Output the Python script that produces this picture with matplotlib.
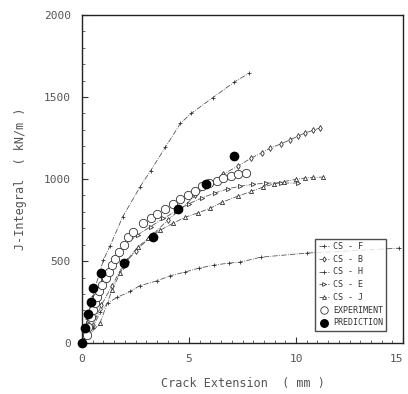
import matplotlib
matplotlib.use("Agg")
from matplotlib import pyplot as plt
from matplotlib.ticker import MultipleLocator
import numpy as np

plt.rcParams['font.family'] = ['DejaVu Sans Mono', 'DejaVu Sans']

# 数据
f_x = [0, 0.25, 0.5, 0.8, 1.0, 1.3, 1.9, 2.7, 3.2, 3.9, 4.6, 5.1, 6.1, 7.1, 7.8]
f_y = [0, 150, 290, 420, 506, 590, 770, 950, 1050, 1195, 1340, 1400, 1495, 1590, 1645]

b_x = [0, 0.5, 0.9, 1.4, 1.9, 2.5, 3.3, 4.0, 4.6, 5.3, 5.9, 6.6, 7.3, 7.9, 8.4, 8.8, 9.3, 9.7, 10.1, 10.4, 10.8, 11.1]
b_y = [0, 110, 230, 350, 470, 560, 660, 750, 815, 900, 965, 1030, 1080, 1128, 1160, 1189, 1215, 1238, 1262, 1280, 1297, 1311]

h_x = [0, 0.5, 0.85, 1.2, 1.65, 2.25, 2.7, 3.5, 4.1, 4.8, 5.45, 6.15, 6.85, 7.4, 8.35, 10.5, 14.8]
h_y = [0, 95, 190, 245, 280, 315, 350, 380, 410, 433, 457, 475, 488, 494, 524, 549, 579]

e_x = [0, 0.3, 0.6, 1.0, 1.5, 2.0, 2.6, 3.2, 3.8, 4.4, 5.0, 5.6, 6.2, 6.8, 7.4, 8.0, 8.6, 9.3, 10.1]
e_y = [0, 120, 250, 390, 520, 600, 660, 710, 760, 805, 850, 885, 915, 940, 957, 968, 976, 976, 976]

j_x = [0, 0.84, 1.4, 1.78, 2.1, 2.6, 3.1, 3.66, 4.27, 4.83, 5.4, 6.0, 6.56, 7.27, 7.9, 8.44, 8.95, 9.42, 9.98, 10.4, 10.8, 11.25]
j_y = [0, 122, 323, 427, 506, 585, 640, 689, 732, 768, 793, 823, 860, 895, 925, 950, 970, 985, 998, 1006, 1010, 1012]

exp_x = [0.25, 0.3, 0.4, 0.5, 0.6, 0.7, 0.8, 0.95, 1.1, 1.25, 1.4, 1.55, 1.75, 1.95, 2.15, 2.4, 2.85,
         3.2, 3.5, 3.9, 4.25, 4.6, 4.95, 5.3, 5.6, 5.95, 6.3, 6.6, 6.95, 7.3, 7.65]
exp_y = [50, 100, 160, 200, 245, 280, 315, 355, 400, 435, 475, 515, 555, 600, 645, 680, 730,
         760, 790, 820, 850, 880, 905, 930, 955, 975, 990, 1005, 1020, 1030, 1040]

pred_x = [0, 0.15, 0.3, 0.42, 0.52, 0.9, 1.95, 3.3, 4.5, 5.8, 7.1]
pred_y = [0, 90, 180, 250, 335, 427, 490, 646, 817, 970, 1140]

curves = [
    (f_x, f_y, '+', 'CS - F'),
    (b_x, b_y, 'd', 'CS - B'),
    (h_x, h_y, '+', 'CS - H'),
    (e_x, e_y, '>', 'CS - E'),
    (j_x, j_y, '^', 'CS - J'),
]

txt = '#555555'
fig = plt.figure(figsize=(4.08, 3.94), dpi=100)
ax = fig.add_axes([0.201, 0.129, 0.787, 0.833])

for x, y, m, lab in curves:
    mfc = 'white' if m in ('d', '^', '>') else 'none'
    ax.plot(x, y, linestyle='-.', color='#555555', linewidth=0.6,
            marker=m, markersize=3, markerfacecolor=mfc, markeredgewidth=0.6,
            markeredgecolor='#333333', label=lab)

ax.plot(exp_x, exp_y, 'o', markersize=6, markerfacecolor='white',
        markeredgecolor='#333333', markeredgewidth=0.6, linestyle='none', label='EXPERIMENT')
ax.plot(pred_x, pred_y, 'o', markersize=6, color='black', linestyle='none',
        label='PREDICTION', clip_on=False, zorder=5)

ax.set_xlim(0, 15)
ax.set_ylim(0, 2000)
ax.set_xticks([0, 5, 10, 15])
ax.set_yticks([0, 500, 1000, 1500, 2000])
ax.xaxis.set_minor_locator(MultipleLocator(0.5))
ax.yaxis.set_minor_locator(MultipleLocator(100))
ax.tick_params(which='both', direction='in', labelsize=8, labelcolor=txt, color='#333333')
ax.tick_params(which='major', length=4, width=0.8)
ax.tick_params(which='minor', length=2, width=0.5)
ax.tick_params(axis='x', pad=8)
ax.tick_params(axis='y', pad=8)
for s in ax.spines.values():
    s.set_linewidth(1.0)
    s.set_color('#222222')
fig.canvas.draw()
ax.get_xticklabels()[-1].set_horizontalalignment('right')

ax.set_xlabel('Crack Extension  ( mm )', fontsize=8.5, color=txt, labelpad=9)
ax.set_ylabel('J-Integral  ( kN/m )', fontsize=8.5, color=txt, labelpad=12)

leg = ax.legend(loc='lower right', bbox_to_anchor=(0.96, 0.025), fontsize=6,
                frameon=True, fancybox=False, edgecolor='#222222',
                handlelength=1.3, handletextpad=0.4, labelspacing=0.45,
                borderpad=0.4, markerscale=0.9)
leg.get_frame().set_linewidth(1.0)
for t in leg.get_texts():
    t.set_color('#333333')

fig.savefig('out.png', dpi=100)
